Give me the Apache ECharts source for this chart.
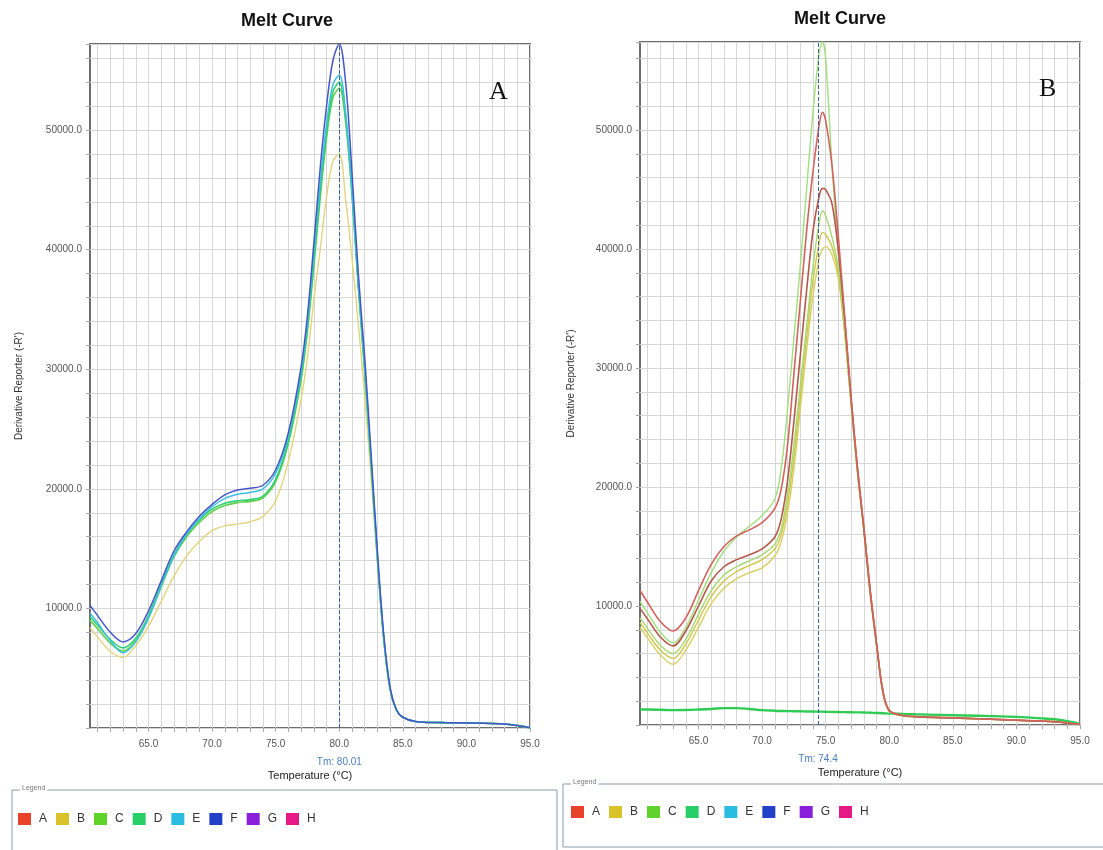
<!DOCTYPE html>
<html>
<head>
<meta charset="utf-8">
<script src="https://cdn.jsdelivr.net/npm/echarts@6/dist/echarts.min.js"></script>
<style>
html,body{margin:0;padding:0;background:#fff;}
#chart{width:1103px;height:850px;}
</style>
</head>
<body>
<div id="chart"></div>
<script>
// ---------- data ----------
const tickTemps = [61,62,63,64,65,66,67,68,69,70,71,72,73,74,75,76,77,78,79,80,81,82,83,84,85,86,87,88,89,90,91,92,93,94,95];
const labelTemps = [65,70,75,80,85,90,95];
const tmA = 80.01;
const tmB = 74.4;
const legendNames = ['A','B','C','D','E','F','G','H'];

// Panel A
const tempA = [60.4,61,62,63,64,65,66,67,68,69,70,71,72,73,74,75,76,77,77.5,78,78.5,79,79.5,80,80.5,81,81.5,82,82.5,83,83.5,84,84.5,85,86,88,90,92,93,94,95];
const aF = [10250,9400,8000,7200,7900,9800,12300,14800,16400,17700,18700,19500,19900,20050,20300,21600,24700,30200,34500,40500,46800,52000,55800,57200,54000,46500,38000,31000,23000,14800,7800,3400,1500,900,550,450,420,380,330,200,30];
const aE = [9600,8800,7300,6300,7200,9200,11900,14400,16200,17500,18500,19200,19550,19700,20000,21300,24400,29800,34000,39800,45500,50500,53800,54600,51500,45000,37200,30200,22500,14400,7600,3300,1500,900,550,450,420,380,330,200,30];
const aD = [9300,8600,7400,6700,7500,9400,12000,14500,16200,17400,18300,18800,19000,19100,19400,20800,24000,29400,33500,39000,44800,49800,53200,54000,51000,44800,37000,30000,22300,14300,7500,3300,1500,900,550,450,420,380,330,200,30];
const aC = [9000,8300,7100,6450,7300,9200,11800,14300,16000,17200,18100,18600,18850,18950,19250,20600,23800,29100,33200,38600,44300,49300,52700,53500,50700,44600,36800,29800,22100,14200,7400,3200,1500,900,550,450,420,380,330,200,30];
const aB = [8400,7600,6400,5900,6900,8500,10600,12700,14400,15600,16500,16900,17050,17250,17700,19000,22300,27500,31000,35800,40000,44400,47400,48000,44200,39300,33800,27800,21000,13800,7300,3200,1500,900,550,450,420,380,330,200,30];

// Panel B
const tempB = [60.4,61,62,63,64,65,66,67,68,69,70,71,71.5,72,72.5,73,73.5,74,74.5,74.75,75,75.5,76,76.5,77,77.5,78,78.5,79,79.5,80,81,82,84,86,88,90,92,93,94,95];
const bA1 = [11300,10300,8700,7900,9000,11300,13500,15000,15900,16400,17000,18200,19800,23500,29500,35500,41500,46500,50500,51500,50800,47000,41000,34300,27600,21700,16700,11400,6900,2900,1250,820,720,640,570,490,410,330,280,180,40];
const bA2 = [9800,8900,7400,6650,7900,10000,12100,13300,13900,14300,14800,15800,17300,20500,25500,31000,36500,41500,44500,45100,45000,43800,39800,34000,27400,21500,16500,11200,6800,2800,1200,800,700,620,560,480,400,320,270,170,40];
const bC1 = [10400,9400,7800,6900,8200,10500,12800,14600,15800,16700,17600,19000,21500,26500,32500,38500,45000,51500,56500,57400,56000,47000,39500,33500,27000,21200,16300,11000,6700,2700,1150,780,690,610,550,470,390,310,260,160,40];
const bC2 = [9000,8100,6700,6000,7200,9300,11300,12600,13300,13800,14300,15200,16500,19300,23500,28500,33500,38500,42300,43200,42800,41000,38300,33200,27100,21300,16400,11100,6700,2700,1150,780,690,610,550,470,390,310,260,160,40];
const bB1 = [8600,7700,6300,5600,6800,8800,10800,12100,12900,13400,13900,14800,16000,18600,22500,27500,32500,37300,40600,41400,41200,40200,37900,33000,27000,21300,16400,11200,6800,2800,1200,800,700,620,560,480,400,320,270,170,40];
const bB2 = [8200,7300,5900,5100,6300,8200,10200,11500,12300,12800,13200,14200,15400,17800,21500,26500,31500,36000,39300,40000,40200,39500,37500,32800,27000,21400,16500,11300,6900,2900,1250,820,720,640,570,490,410,330,280,180,40];
const bD = [1300,1300,1280,1250,1260,1300,1350,1420,1420,1350,1250,1200,1180,1170,1160,1150,1140,1130,1120,1120,1110,1100,1090,1080,1070,1060,1050,1030,1010,990,960,930,900,850,800,750,680,560,480,320,100];

// ---------- styling ----------
const legendColors = {A:'#e8432a',B:'#d9c22a',C:'#5fd32a',D:'#28cf66',E:'#2bbde0',F:'#2340c8',G:'#8a1fdb',H:'#e61a84'};
const FONT = 'Liberation Sans, Arial, sans-serif';

function pairs(xs, ys){ return xs.map((x,i)=>[x, ys[i]]); }

function lineSeries(name, grid, xs, ys, lineColor, width, extra){
  return Object.assign({
    type:'line', name:name, xAxisIndex:grid, yAxisIndex:grid,
    data: pairs(xs, ys), showSymbol:false, smooth:0.35,
    itemStyle:{color:legendColors[name]},
    lineStyle:{color:lineColor, width:width},
    emphasis:{disabled:true}, silent:true
  }, extra || {});
}

function tmLine(tm){
  return {
    silent:true, symbol:['none','none'],
    data:[{xAxis:tm}],
    lineStyle:{type:'dashed', color:'#3d5f96', width:1},
    label:{show:true, position:'start', formatter:'Tm: ' + tm, color:'#4a7fc0', fontSize:10, fontFamily:FONT, distance:29}
  };
}

function xAxis(grid){
  return {
    type:'value', gridIndex:grid, min:60.4, max:95,
    axisLine:{show:false},
    axisTick:{show:true, length:4, customValues:tickTemps, lineStyle:{color:'#a8a8a8'}},
    axisLabel:{customValues:labelTemps, formatter:v=>v.toFixed(1), fontSize:10, color:'#555', fontFamily:FONT, margin:11},
    splitLine:{show:true, lineStyle:{color:'#d6d6d6', width:1}},
    name:'Temperature (°C)', nameLocation:'middle', nameGap:42,
    nameTextStyle:{fontSize:11, color:'#222', fontFamily:FONT}
  };
}
function yAxis(grid, max, gap){
  return {
    type:'value', gridIndex:grid, min:0, max:max, interval:2000,
    axisLine:{show:false},
    axisTick:{show:true, length:4, lineStyle:{color:'#a8a8a8'}},
    axisLabel:{formatter:v=> (v>0 && v%10000===0) ? v.toFixed(1) : '', fontSize:10, color:'#555', fontFamily:FONT, margin:8},
    splitLine:{show:true, lineStyle:{color:'#d6d6d6', width:1}},
    name:"Derivative Reporter (-R')", nameLocation:'middle', nameGap:gap,
    nameTextStyle:{fontSize:10, color:'#333', fontFamily:FONT}
  };
}

function legend(left, top){
  return {
    left:left, top:top, orient:'horizontal', icon:'rect',
    itemWidth:13, itemHeight:12, itemGap:9,
    data:legendNames, selectedMode:false,
    textStyle:{fontSize:12, color:'#333', fontFamily:FONT, padding:[0,0,0,3]}
  };
}

const chart = echarts.init(document.getElementById('chart'), null, {renderer:'canvas'});
chart.setOption({
  animation:false,
  backgroundColor:'#ffffff',
  title:[
    {text:'Melt Curve', left:236, top:7, textStyle:{fontSize:18, fontWeight:'bold', color:'#111', fontFamily:FONT}},
    {text:'Melt Curve', left:789, top:5, textStyle:{fontSize:18, fontWeight:'bold', color:'#111', fontFamily:FONT}},
    {text:'A', left:484, top:74, textStyle:{fontSize:26, fontWeight:'normal', color:'#111', fontFamily:'Liberation Serif, DejaVu Serif, serif'}},
    {text:'B', left:1034, top:71, textStyle:{fontSize:26, fontWeight:'normal', color:'#111', fontFamily:'Liberation Serif, DejaVu Serif, serif'}}
  ],
  grid:[
    {left:90, top:44, width:440, height:684, show:true, borderColor:'#6e6e6e', borderWidth:2, containLabel:false},
    {left:640, top:42, width:440, height:683, show:true, borderColor:'#6e6e6e', borderWidth:2, containLabel:false}
  ],
  xAxis:[xAxis(0), xAxis(1)],
  yAxis:[yAxis(0, 57200, 66), yAxis(1, 57400, 64)],
  legend:[legend(13, 808), legend(566, 801)],
  graphic:[
    {type:'rect', shape:{x:12, y:790, width:545, height:80}, style:{fill:'none', stroke:'#8c9cab', lineWidth:1}, silent:true},
    {type:'text', x:20, y:785, style:{text:'Legend', fontSize:7, fill:'#777', backgroundColor:'#fff', padding:[0,2], fontFamily:FONT}, silent:true},
    {type:'rect', shape:{x:563, y:784, width:560, height:63}, style:{fill:'none', stroke:'#8c9cab', lineWidth:1}, silent:true},
    {type:'text', x:571, y:779, style:{text:'Legend', fontSize:7, fill:'#777', backgroundColor:'#fff', padding:[0,2], fontFamily:FONT}, silent:true}
  ],
  series:[
    lineSeries('B', 0, tempA, aB, '#e3d47e', 1.4),
    lineSeries('C', 0, tempA, aC, '#62d04c', 1.6),
    lineSeries('D', 0, tempA, aD, '#2fcf72', 1.6),
    lineSeries('E', 0, tempA, aE, '#3dc0e0', 1.5),
    lineSeries('F', 0, tempA, aF, '#4656c6', 1.5, {markLine:tmLine(tmA)}),
    lineSeries('G', 0, [], [], '#8a1fdb', 1),
    lineSeries('H', 0, [], [], '#e61a84', 1),
    lineSeries('D', 1, tempB, bD, '#2ecc55', 2.4, {markLine:tmLine(tmB)}),
    lineSeries('B', 1, tempB, bB2, '#d8cf60', 1.4),
    lineSeries('B', 1, tempB, bB1, '#cfc64a', 1.4),
    lineSeries('C', 1, tempB, bC2, '#a6d870', 1.4),
    lineSeries('C', 1, tempB, bC1, '#9fe07e', 1.4),
    lineSeries('A', 1, tempB, bA2, '#b4584a', 1.6),
    lineSeries('A', 1, tempB, bA1, '#d2625e', 1.6)
  ]
});
</script>
</body>
</html>
